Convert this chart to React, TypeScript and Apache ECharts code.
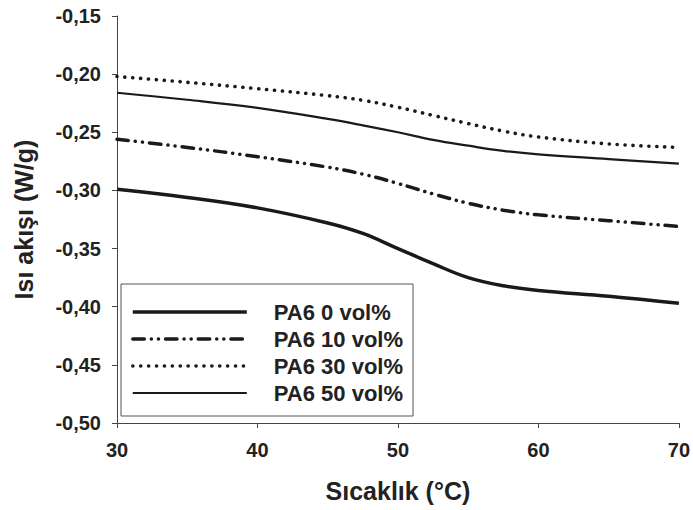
import React, { useEffect, useRef } from "react";
import * as echarts from "echarts";

// Temperature (°C) sample points
const temperature = [30, 35, 40, 45, 47.5, 50, 52.5, 55, 57.5, 60, 65, 70];

// Heat flow (W/g) for each PA6 loading
const pa6_0 = [-0.299, -0.306, -0.315, -0.328, -0.337, -0.35, -0.363, -0.375, -0.382, -0.386, -0.391, -0.397];
const pa6_10 = [-0.256, -0.263, -0.271, -0.28, -0.286, -0.294, -0.303, -0.311, -0.317, -0.321, -0.326, -0.331];
const pa6_30 = [-0.202, -0.207, -0.2125, -0.2185, -0.2225, -0.2285, -0.2355, -0.2425, -0.249, -0.254, -0.26, -0.263];
const pa6_50 = [-0.216, -0.222, -0.229, -0.2385, -0.244, -0.25, -0.2565, -0.2615, -0.266, -0.269, -0.273, -0.277];

const seriesNames = ["PA6 0 vol%", "PA6 10 vol%", "PA6 30 vol%", "PA6 50 vol%"];

const FONT = "'Liberation Sans', Arial, sans-serif";
const INK = "#222";
const LINE = "#1a1a1a";

// Stroke styles shared by each curve and its legend entry
const strokes: any[] = [
  { color: LINE, width: 3.5, type: "solid" },
  { color: LINE, width: 3.5, type: [11.5, 7, 0.1, 7, 0.1, 7], cap: "round" },
  { color: LINE, width: 3.6, type: [0.1, 7.8], cap: "round" },
  { color: LINE, width: 2.2, type: "solid" },
];

const curves = [pa6_0, pa6_10, pa6_30, pa6_50];

function pairs(ys: number[]) {
  return temperature.map((t, i) => [t, ys[i]]);
}

export default function App() {
  const ref = useRef<HTMLDivElement>(null);

  useEffect(() => {
    if (!ref.current) return;
    const chart = echarts.init(ref.current, undefined, { renderer: "svg" });

    chart.setOption({
      animation: false,
      backgroundColor: "#fff",
      grid: { left: 117, right: 14, top: 16, bottom: 87 },
      legend: {
        orient: "vertical",
        left: 121,
        top: 284,
        data: seriesNames.map((name, i) => ({
          name,
          itemStyle: { opacity: 0 },
          lineStyle: strokes[i],
        })),
        itemWidth: 114,
        itemHeight: 20,
        itemGap: 5,
        padding: [17, 10, 12, 10],
        borderColor: "#555",
        borderWidth: 1,
        textStyle: {
          fontFamily: FONT,
          fontWeight: "bold",
          fontSize: 22,
          color: INK,
          padding: [0, 0, 0, 22],
        },
        selectedMode: false,
      },
      xAxis: {
        type: "value",
        min: 30,
        max: 70,
        interval: 10,
        name: "Sıcaklık (°C)",
        nameLocation: "middle",
        nameGap: 55,
        nameTextStyle: { fontFamily: FONT, fontWeight: "bold", fontSize: 25, color: INK },
        axisLine: { lineStyle: { color: "#444", width: 1 } },
        axisTick: { show: true, inside: false, length: 5, lineStyle: { color: "#444" } },
        axisLabel: { fontFamily: FONT, fontWeight: "bold", fontSize: 20, color: INK, margin: 17 },
        splitLine: { show: false },
      },
      yAxis: {
        type: "value",
        min: -0.5,
        max: -0.15,
        interval: 0.05,
        name: "Isı akışı (W/g)",
        nameLocation: "middle",
        nameGap: 81,
        nameTextStyle: { fontFamily: FONT, fontWeight: "bold", fontSize: 25, color: INK },
        axisLine: { show: true, lineStyle: { color: "#444", width: 1 } },
        axisTick: { show: true, inside: false, length: 5, lineStyle: { color: "#444" } },
        axisLabel: {
          fontFamily: FONT,
          fontWeight: "bold",
          fontSize: 20,
          color: INK,
          margin: 16,
          formatter: (v: number) => v.toFixed(2).replace(".", ","),
        },
        splitLine: { show: false },
      },
      series: curves.map((ys, i) => ({
        type: "line",
        name: seriesNames[i],
        data: pairs(ys),
        showSymbol: false,
        symbol: "none",
        smooth: 0.4,
        lineStyle: strokes[i],
        itemStyle: { color: LINE },
      })),
    });

    return () => chart.dispose();
  }, []);

  return <div ref={ref} style={{ width: 693, height: 510, position: "absolute", left: 0, top: 0 }} />;
}
